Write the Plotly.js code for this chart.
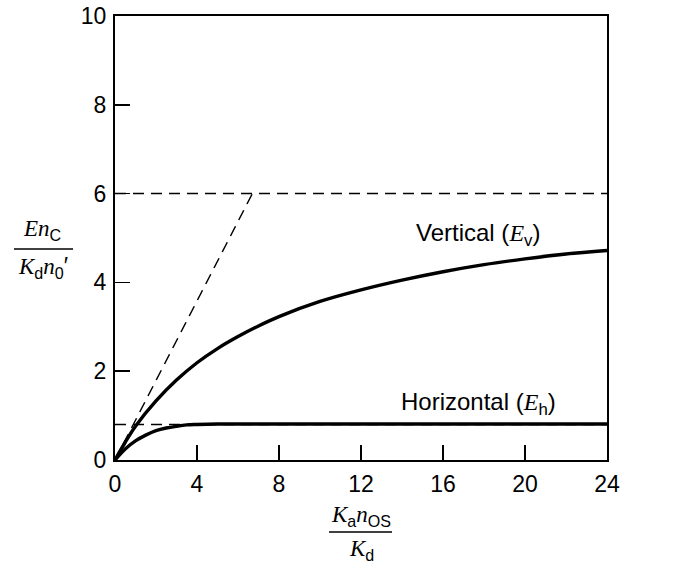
<!DOCTYPE html>
<html>
<head>
<meta charset="utf-8">
<script src="https://cdn.plot.ly/plotly-3.0.1.min.js"></script>
<style>html,body{margin:0;padding:0;background:#fff;}#chart{width:675px;height:579px;}</style>
</head>
<body>
<div id="chart"></div>
<script>
// Vertical (E_v) curve
const vertX = [0, 0.5, 1, 2, 3, 4, 5, 6, 7, 8, 10, 12, 14, 16, 18, 20, 22, 24];
const vertY = [0, 0.40, 0.76, 1.33, 1.80, 2.19, 2.51, 2.78, 3.02, 3.23, 3.57, 3.83, 4.05, 4.24, 4.40, 4.53, 4.64, 4.72];
// Horizontal (E_h) curve
const horizX = [0, 0.5, 1, 1.5, 2, 2.5, 3, 3.5, 4, 5, 8, 12, 16, 20, 24];
const horizY = [0, 0.25, 0.43, 0.56, 0.66, 0.72, 0.76, 0.79, 0.80, 0.81, 0.81, 0.81, 0.81, 0.81, 0.81];
// Dashed reference lines
const slopeX = [0, 6.7];
const slopeY = [0, 6];
const limitVX = [0, 24];
const limitVY = [6, 6];
const limitHX = [0, 24];
const limitHY = [0.8, 0.8];
const xTicks = [0, 4, 8, 12, 16, 20, 24];
const yTicks = [0, 2, 4, 6, 8, 10];

const L = 115, R = 607, T = 16, B = 460;
const px = v => (v - L) / (R - L);
const py = v => (B - v) / (B - T);

const serif = 'font-family:Liberation Serif,serif';
const it = s => '<span style="' + serif + '"><i>' + s + '</i></span>';

const dash = {color: '#000', width: 1.5, dash: '11px,7px'};
const solid = {color: '#000', width: 3.4};

const traces = [
  {x: limitVX, y: limitVY, mode: 'lines', line: dash, hoverinfo: 'skip'},
  {x: limitHX, y: limitHY, mode: 'lines', line: dash, hoverinfo: 'skip'},
  {x: slopeX, y: slopeY, mode: 'lines', line: dash, hoverinfo: 'skip'},
  {x: vertX, y: vertY, mode: 'lines', line: Object.assign({shape: 'spline', smoothing: 1}, solid), name: 'Vertical'},
  {x: horizX, y: horizY, mode: 'lines', line: Object.assign({shape: 'spline', smoothing: 1}, solid), name: 'Horizontal'}
];

const fam = 'Liberation Sans, Arial, sans-serif';
const tickFont = {family: fam, size: 23, color: '#000'};
const textFont = {family: fam, size: 24, color: '#000'};
const mathFont = {family: fam, size: 23, color: '#000'};

const layout = {
  width: 675, height: 579,
  margin: {l: L, r: 675 - R, t: T, b: 579 - B, pad: 0},
  paper_bgcolor: '#fff', plot_bgcolor: '#fff',
  showlegend: false,
  font: tickFont,
  xaxis: {
    range: [0, 24], tickvals: xTicks, ticktext: xTicks.map(String),
    ticks: 'inside', ticklen: 15, tickwidth: 1.5, tickcolor: '#000',
    showline: true, linewidth: 2, linecolor: '#000', mirror: true,
    showgrid: false, zeroline: false, tickfont: tickFont, ticklabelstandoff: 2
  },
  yaxis: {
    range: [0, 10], tickvals: yTicks, ticktext: yTicks.map(String),
    ticks: 'inside', ticklen: 15, tickwidth: 1.5, tickcolor: '#000',
    showline: true, linewidth: 2, linecolor: '#000', mirror: true,
    showgrid: false, zeroline: false, tickfont: tickFont, ticklabelstandoff: 2
  },
  annotations: [
    {xref: 'paper', yref: 'paper', x: px(478), y: py(234), text: 'Vertical (' + it('E') + '<sub>v</sub>)', showarrow: false, font: textFont, xanchor: 'center', yanchor: 'middle'},
    {xref: 'paper', yref: 'paper', x: px(478), y: py(403), text: 'Horizontal (' + it('E') + '<sub>h</sub>)', showarrow: false, font: textFont, xanchor: 'center', yanchor: 'middle'},
    {xref: 'paper', yref: 'paper', x: px(42), y: py(230), text: it('En') + '<sub>C</sub>', showarrow: false, font: mathFont, xanchor: 'center', yanchor: 'middle'},
    {xref: 'paper', yref: 'paper', x: px(43), y: py(267), text: it('K') + '<sub>d</sub>' + it('n') + '<sub>0</sub>′', showarrow: false, font: mathFont, xanchor: 'center', yanchor: 'middle'},
    {xref: 'paper', yref: 'paper', x: px(361), y: py(516), text: it('K') + '<sub>a</sub>' + it('n') + '<sub>OS</sub>', showarrow: false, font: mathFont, xanchor: 'center', yanchor: 'middle'},
    {xref: 'paper', yref: 'paper', x: px(361), y: py(550), text: it('K') + '<sub>d</sub>', showarrow: false, font: mathFont, xanchor: 'center', yanchor: 'middle'}
  ],
  shapes: [
    {type: 'line', xref: 'paper', yref: 'paper', x0: px(14), x1: px(73), y0: py(249), y1: py(249), line: {color: '#000', width: 1.5}},
    {type: 'line', xref: 'paper', yref: 'paper', x0: px(329), x1: px(392), y0: py(532), y1: py(532), line: {color: '#000', width: 1.5}}
  ]
};

Plotly.newPlot('chart', traces, layout, {staticPlot: true, displayModeBar: false});
</script>
</body>
</html>
